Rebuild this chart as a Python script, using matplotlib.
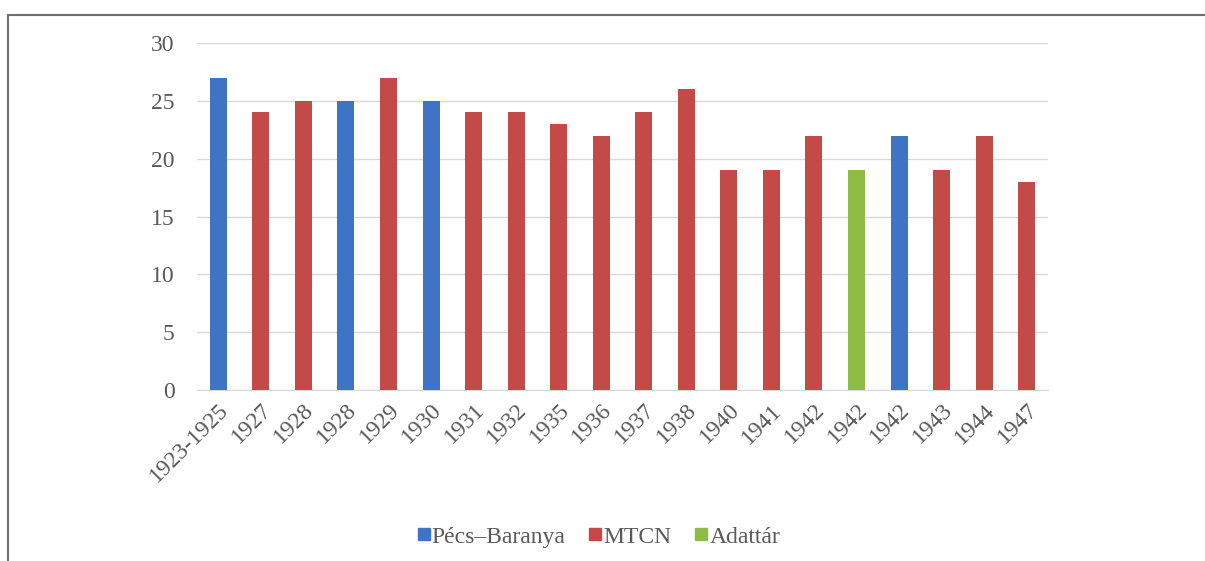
import matplotlib.pyplot as plt
from matplotlib.lines import Line2D

plt.rcParams['font.family'] = ['Liberation Serif', 'DejaVu Serif']

# ── Data ──────────────────────────────────────────────────────────────────────

labels = ['1923-1925', '1927', '1928', '1928', '1929', '1930', '1931', '1932',
          '1935', '1936', '1937', '1938', '1940', '1941', '1942', '1942',
          '1942', '1943', '1944', '1947']
values = [27, 24, 25, 25, 27, 25, 24, 24, 23, 22, 24, 26, 19, 19, 22, 19,
          22, 19, 22, 18]
sources = ['Pécs–Baranya', 'MTCN', 'MTCN', 'Pécs–Baranya', 'MTCN',
           'Pécs–Baranya', 'MTCN', 'MTCN', 'MTCN', 'MTCN', 'MTCN', 'MTCN',
           'MTCN', 'MTCN', 'MTCN', 'Adattár', 'Pécs–Baranya', 'MTCN', 'MTCN',
           'MTCN']

COLORS = {'Pécs–Baranya': '#3f74c4', 'MTCN': '#c44a48', 'Adattár': '#8fbc45'}
TEXT = '#595959'

# ── Plot ──────────────────────────────────────────────────────────────────────

fig = plt.figure(figsize=(12.05, 5.61), dpi=100)
ax = fig.add_axes([0.1635, 0.3048, 0.7062, 0.6185])

x = range(len(values))
ax.bar(x, values, width=0.4, color=[COLORS[s] for s in sources], zorder=3)

ax.set_xlim(-0.5, len(values) - 0.5)
ax.set_ylim(0, 30)
ax.set_yticks(range(0, 31, 5))
ax.yaxis.grid(True, color='#d9d9d9', lw=1, zorder=0)
for side in ('top', 'right', 'left'):
    ax.spines[side].set_visible(False)
ax.spines['bottom'].set_color('#d9d9d9')
ax.tick_params(length=0, labelsize=17, colors=TEXT)
ax.tick_params(axis='y', pad=16)

ax.set_xticks(list(x))
ax.set_xticklabels(labels, rotation=45, ha='right', va='top',
                   rotation_mode='anchor', fontsize=17)
ax.tick_params(axis='x', pad=7)

handles = [Line2D([], [], marker='s', ls='', markersize=8, color=c)
           for c in COLORS.values()]
fig.legend(handles, list(COLORS), loc='center', bbox_to_anchor=(0.497, 0.043),
           ncol=3, frameon=False, fontsize=17, handlelength=0.5,
           handletextpad=0.1, columnspacing=1.0, labelcolor=TEXT)

# outer frame (left and top edges visible)
fig.add_artist(Line2D([8 / 1205, 8 / 1205], [0, 1 - 15 / 561],
                      color='#707070', lw=1.5, transform=fig.transFigure))
fig.add_artist(Line2D([8 / 1205, 1], [1 - 15 / 561, 1 - 15 / 561],
                      color='#707070', lw=1.5, transform=fig.transFigure))

plt.savefig('out.png', dpi=100)
plt.close()
